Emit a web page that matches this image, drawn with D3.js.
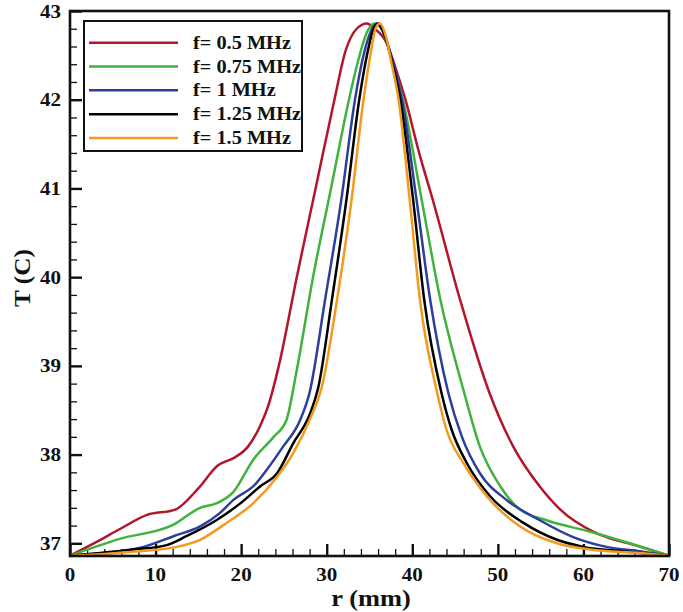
<!DOCTYPE html>
<html>
<head>
<meta charset="utf-8">
<script src="https://cdn.jsdelivr.net/npm/d3@7"></script>
<style>
  html, body { margin: 0; padding: 0; background: #fff; }
  svg text { font-family: "Liberation Serif", "Times New Roman", serif; font-weight: bold; fill: #111; }
</style>
</head>
<body>
<svg id="chart" width="683" height="612"></svg>
<script>
// ---- data (r in mm, T in C) ----
const seriesNames = ["f= 0.5 MHz", "f= 0.75 MHz", "f= 1 MHz", "f= 1.25 MHz", "f= 1.5 MHz"];
const seriesColors = ["#b3162b", "#3fb33c", "#2c3f9c", "#000000", "#f4991f"];

const f050 = [[0,36.86],[3,37.01],[6,37.17],[9,37.32],[12.3,37.38],[15,37.62],[17.3,37.88],[19.1,37.96],[20.8,38.09],[22.2,38.32],[23.2,38.56],[24.4,39.0],[26.5,40.0],[28.7,41.0],[30.9,42.0],[32.2,42.55],[33.5,42.8],[34.7,42.86],[35.6,42.8],[37.0,42.64],[38.0,42.37],[39.2,42.0],[40.8,41.4],[42.4,40.87],[45.6,39.74],[49.0,38.7],[51.8,38.09],[54.9,37.64],[57.3,37.38],[61.2,37.13],[62.7,37.07],[66,36.98],[70,36.86]];
const f075 = [[0,36.86],[5.8,37.05],[12.1,37.21],[15.2,37.40],[17.1,37.45],[19.1,37.58],[21.4,37.94],[23.8,38.20],[25.3,38.39],[26.4,38.9],[28.4,40.0],[30.5,41.0],[32.6,42.0],[33.7,42.45],[34.7,42.76],[35.6,42.86],[36.5,42.78],[37.6,42.45],[38.9,42.0],[41.1,40.87],[43.3,39.74],[46.0,38.72],[47.9,38.09],[50.3,37.64],[52.6,37.38],[55.7,37.26],[60.8,37.13],[65.4,37.0],[70,36.86]];
const f100 = [[0,36.86],[4,36.89],[8.6,36.96],[12.1,37.08],[15.2,37.19],[17.5,37.34],[19.1,37.49],[21.6,37.66],[23.0,37.83],[24.9,38.09],[26.9,38.39],[28.0,38.7],[29.8,39.74],[31.7,40.87],[33.3,42.0],[34.3,42.5],[35.2,42.78],[35.9,42.86],[36.8,42.72],[37.8,42.4],[38.8,42.0],[40.5,40.87],[42.1,39.74],[44.2,38.7],[45.8,38.2],[47.9,37.79],[51.0,37.49],[54.9,37.26],[58.8,37.07],[62.7,36.96],[66.6,36.91],[70,36.86]];
const f125 = [[0,36.86],[3.5,36.89],[7.4,36.93],[11.3,36.98],[13.6,37.08],[17.1,37.26],[19.9,37.45],[22.2,37.64],[24.2,37.79],[26.1,38.13],[28.0,38.45],[29.0,38.75],[30.6,39.74],[32.3,40.87],[33.8,42.0],[34.7,42.5],[35.4,42.78],[36.0,42.86],[36.8,42.72],[37.7,42.4],[38.6,42.0],[40.1,40.87],[41.4,39.74],[43.4,38.7],[44.6,38.28],[46.4,37.9],[49.1,37.53],[53.0,37.23],[56.9,37.04],[60.0,36.96],[64.6,36.91],[70,36.86]];
const f150 = [[0,36.86],[4,36.88],[8,36.91],[12.5,36.96],[15.2,37.04],[18.3,37.23],[21.4,37.45],[24.2,37.75],[26.1,38.02],[28.0,38.39],[29.4,38.75],[31.2,39.74],[32.9,40.87],[34.3,42.0],[35.1,42.5],[35.7,42.8],[36.2,42.86],[36.9,42.72],[37.6,42.4],[38.4,42.0],[39.7,40.87],[40.9,39.74],[42.9,38.7],[44.0,38.28],[46.0,37.9],[48.7,37.53],[52.6,37.19],[56.9,37.0],[60.8,36.93],[66.6,36.89],[70,36.86]];
const seriesData = [f050, f075, f100, f125, f150];

const xTicks = [0, 10, 20, 30, 40, 50, 60, 70];
const yTicks = [37, 38, 39, 40, 41, 42, 43];
const xLabel = "r (mm)";
const yLabel = "T (C)";

// ---- layout ----
const svg = d3.select("#chart");
const L = 70, R = 669, T = 11, B = 556;
const x = d3.scaleLinear().domain([0, 70]).range([L, R]);
const y = d3.scaleLinear().domain([36.857, 43]).range([B, T]);

// minor/major ticks (inward)
const xAxis = d3.axisTop(x).tickValues(xTicks).tickSize(12).tickFormat("");
const xMinor = d3.axisTop(x).tickValues(d3.range(0, 70.1, 2).filter(v => v % 10 !== 0)).tickSize(7).tickFormat("");
const yAxis = d3.axisRight(y).tickValues(yTicks).tickSize(12).tickFormat("");
const yMinor = d3.axisRight(y).tickValues(d3.range(37, 43.01, 0.2).map(v => +v.toFixed(1)).filter(v => Math.abs(v - Math.round(v)) > 1e-6)).tickSize(7).tickFormat("");

function styleAxis(g, w) {
  g.select(".domain").remove();
  g.selectAll("line").attr("stroke", "#111").attr("stroke-width", w);
}
svg.append("g").attr("transform", `translate(0,${B})`).call(xAxis).call(g => styleAxis(g, 2.4));
svg.append("g").attr("transform", `translate(0,${B})`).call(xMinor).call(g => styleAxis(g, 1.3));
svg.append("g").attr("transform", `translate(${L},0)`).call(yAxis).call(g => styleAxis(g, 2.4));
svg.append("g").attr("transform", `translate(${L},0)`).call(yMinor).call(g => styleAxis(g, 1.3));

// tick labels
svg.append("g").selectAll("text").data(xTicks).join("text")
  .attr("transform", d => `translate(${x(d)},581) scale(1.08,1)`)
  .attr("text-anchor", "middle").style("font-size", "19.5px").text(d => d);
svg.append("g").selectAll("text").data(yTicks).join("text")
  .attr("transform", d => `translate(61,${y(d) + 6.5}) scale(1.08,1)`)
  .attr("text-anchor", "end").style("font-size", "19.5px").text(d => d);

// axis titles
svg.append("text").attr("transform", "translate(371,606) scale(1.1,1)")
  .attr("text-anchor", "middle").style("font-size", "24px").text(xLabel);
svg.append("text").attr("transform", "translate(30,278) rotate(-90) scale(1.1,1)")
  .attr("text-anchor", "middle").style("font-size", "23px").text(yLabel);

// curves
const line = d3.line().x(d => x(d[0])).y(d => y(d[1])).curve(d3.curveMonotoneX);
svg.append("g").selectAll("path").data(seriesData).join("path")
  .attr("d", line).attr("fill", "none")
  .attr("stroke", (d, i) => seriesColors[i]).attr("stroke-width", 2.5)
  .attr("stroke-linejoin", "round");

// frame
svg.append("rect").attr("x", L).attr("y", T).attr("width", R - L).attr("height", B - T)
  .attr("fill", "none").attr("stroke", "#111").attr("stroke-width", 2.6);

// legend
const lg = svg.append("g");
lg.append("rect").attr("x", 84).attr("y", 21).attr("width", 218).attr("height", 130)
  .attr("fill", "#fff").attr("stroke", "#111").attr("stroke-width", 2);
const rowY = d3.scalePoint().domain(d3.range(seriesNames.length)).range([42.7, 138]);
seriesNames.forEach((name, i) => {
  lg.append("line").attr("x1", 89).attr("x2", 178).attr("y1", rowY(i)).attr("y2", rowY(i))
    .attr("stroke", seriesColors[i]).attr("stroke-width", 2.5);
  lg.append("text").attr("transform", `translate(193,${rowY(i) + 6}) scale(1.13,1)`)
    .style("font-size", "18px").text(name);
});
</script>
</body>
</html>
